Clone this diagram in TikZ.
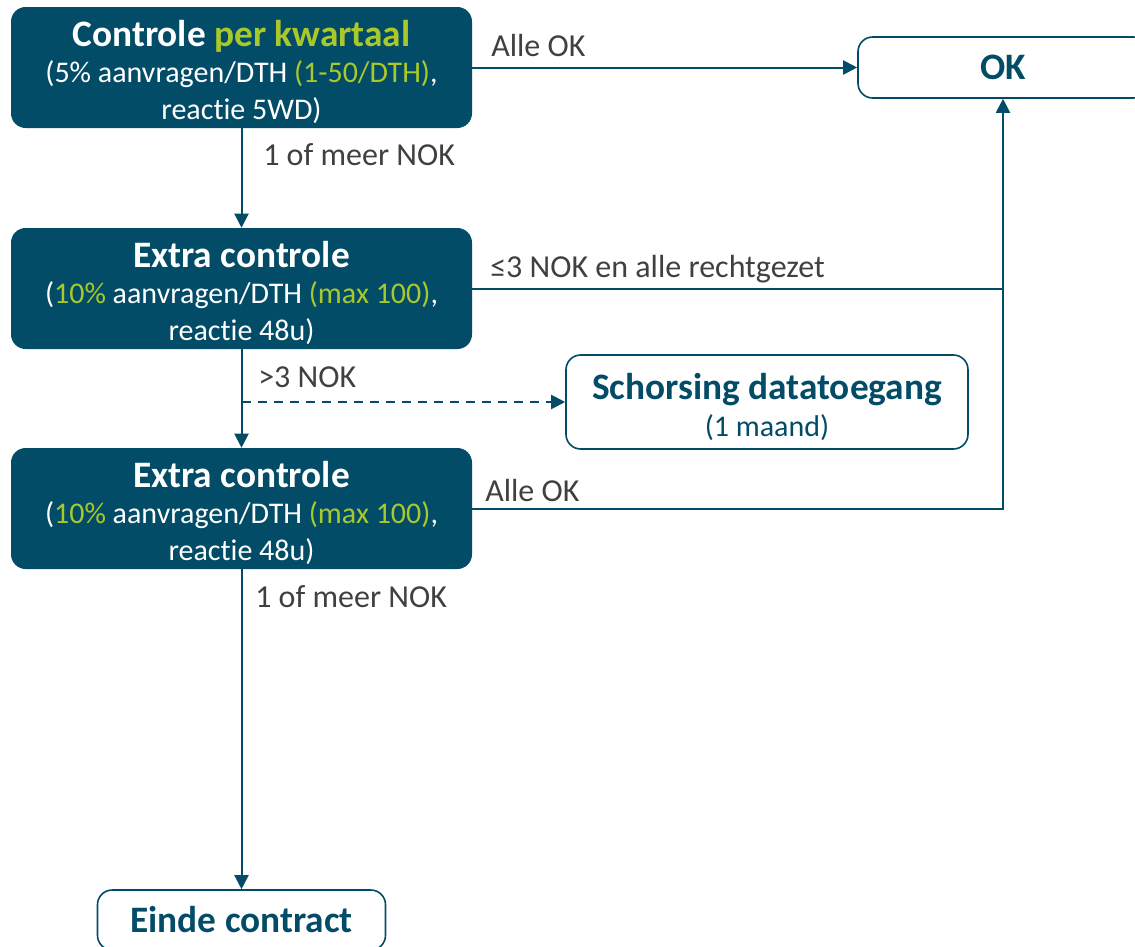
\documentclass[tikz,border=0pt]{standalone}
\usepackage{fontspec}
\setmainfont[Ligatures=NoCommon]{Carlito}
\usetikzlibrary{arrows.meta,calc}
\definecolor{teal}{HTML}{034C68}
\definecolor{accent}{HTML}{A9C92A}
\definecolor{lbl}{HTML}{404040}
\newcommand{\ttlfont}{\fontsize{28}{32}\selectfont\bfseries}
\newcommand{\bdyfont}{\fontsize{22.5}{24}\selectfont}
\newcommand{\lblfont}{\fontsize{24}{28}\selectfont}
\newcommand{\topstrut}{\rule{0pt}{27pt}}
\begin{document}
\begin{tikzpicture}[x=0.75pt,y=-0.75pt,
  darkbox/.style={rounded corners=11pt,fill=teal,draw=none,text=white,align=center,font=\bdyfont,
    minimum width=345.75pt,minimum height=90.75pt,inner sep=0pt},
  lightbox/.style={rounded corners=11pt,fill=white,draw=teal,line width=1.2pt,text=teal,align=center,font=\bdyfont,inner sep=0pt},
  conn/.style={draw=teal,line width=1.5pt},
  arr/.style={conn,-{Triangle[length=10.5pt,width=10.5pt]}},
  lab/.style={text=lbl,font=\lblfont,anchor=base west,inner sep=0pt}]
\useasboundingbox (0,0) rectangle (1135,946);
\node[darkbox] (b1) at (241.5,67.5) {\topstrut{\ttlfont Controle {\color{accent}per kwartaal}}\\[3pt]
  (5\% aanvragen/DTH {\color{accent}(1-50/DTH)},\\[3.75pt] reactie 5WD)};
\node[darkbox] (b2) at (241.5,288.5) {\topstrut{\ttlfont Extra controle}\\[3pt]
  ({\color{accent}10\%} aanvragen/DTH {\color{accent}(max 100)},\\[3.75pt] reactie 48u)};
\node[darkbox] (b3) at (241.5,508.5) {\topstrut{\ttlfont Extra controle}\\[3pt]
  ({\color{accent}10\%} aanvragen/DTH {\color{accent}(max 100)},\\[3.75pt] reactie 48u)};
\node[lightbox,minimum width=217.5pt,minimum height=45.75pt] (ok) at (1003,67.5) {\ttlfont OK};
\node[lightbox,minimum width=301.5pt,minimum height=70.5pt] (sch) at (767,402) {\topstrut{\ttlfont Schorsing datatoegang}\\[4pt] (1 maand)};
\node[lightbox,minimum width=216pt,minimum height=45pt] (end) at (241.5,920) {\ttlfont Einde contract};
% connectors
\draw[arr] (b1.east) -- (ok.west);
\draw[arr] (b1.south) -- (b2.north);
\draw[arr] (b2.east) -- (b2.east -| ok.south) -- (ok.south);
\draw[arr] (b2.south) -- (b3.north);
\coordinate (ds) at (b2.south |- sch.west);
\draw[arr,dash pattern=on 7pt off 5pt] (ds) -- (sch.west);
\draw[conn] (b3.east) -- (b3.east -| ok.south) -- (b2.east -| ok.south);
\draw[arr] (b3.south) -- (end.north);
% labels
\node[lab] (l1) at (491,56) {Alle OK};
\node[lab] (l2) at (263,165) {1 of meer NOK};
\node[lab] (l3) at (490,277) {≤3 NOK en alle rechtgezet};
\node[lab] (l4) at (258,387) {>3 NOK};
\node[lab] (l5) at (485,501) {Alle OK};
\node[lab] (l6) at (255,607) {1 of meer NOK};
\end{tikzpicture}
\end{document}
